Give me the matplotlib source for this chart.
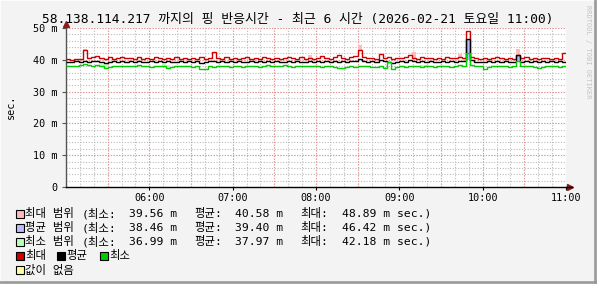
import numpy as np
import matplotlib
matplotlib.use("Agg")
import matplotlib.pyplot as plt
from matplotlib.patches import Rectangle
from matplotlib.lines import Line2D

W, H = 597, 284
MONO = ["DejaVu Sans Mono", "Noto Sans CJK KR"]
RED = "#CC0000"; GRN = "#00CC00"; BLK = "#000000"
PINK = "#FFBBBB"; LBLUE = "#BBBBFF"; LGRN = "#BBFFBB"; YEL = "#FFFFA0"
BG = "#F3F3F3"

# 3-minute samples from 05:00 to 11:00 (ms)
T0, STEP = 5.0, 0.05
MAX_MS = [40.2, 40.0, 40.4, 40.3, 43.0, 40.5, 40.8, 41.2, 40.6, 40.4,
          40.9, 40.3, 40.6, 41.0, 40.5, 40.7, 40.2, 40.9, 40.4, 40.6,
          40.3, 40.8, 40.5, 40.2, 40.6, 40.4, 41.0, 40.3, 40.5, 40.1,
          40.6, 40.4, 40.8, 40.3, 40.7, 42.3, 40.5, 40.3, 40.9, 40.4,
          40.6, 40.2, 40.5, 40.8, 40.3, 40.6, 40.4, 40.9, 40.5, 40.3,
          40.7, 40.4, 40.6, 41.0, 40.5, 40.3, 40.8, 40.4, 40.6, 40.2,
          40.5, 41.1, 40.6, 40.4, 40.9, 41.5, 40.7, 40.4, 40.8, 41.2,
          43.2, 40.9, 40.5, 40.7, 40.4, 41.9, 40.6, 40.8, 40.3, 40.6,
          40.5, 40.9, 41.6, 40.7, 40.4, 40.8, 40.5, 40.6, 40.3, 40.7,
          40.4, 40.8, 40.5, 40.6, 41.0, 40.6, 48.9, 40.9, 40.5, 40.3,
          40.7, 40.4, 40.6, 40.9, 40.5, 40.3, 40.7, 40.4, 41.6, 40.5,
          40.8, 40.3, 40.6, 40.4, 40.5, 40.7, 40.3, 40.6, 40.4, 42.1]
AVG_MS = [39.3, 39.2, 39.5, 39.4, 39.6, 39.3, 39.5, 39.7, 39.4, 39.0,
          39.3, 39.5, 39.4, 39.6, 39.3, 39.5, 39.4, 39.7, 39.3, 39.4,
          39.5, 39.3, 39.6, 39.4, 39.5, 39.2, 39.4, 39.6, 39.3, 39.5,
          39.4, 39.6, 39.1, 39.4, 39.5, 39.7, 39.3, 39.5, 39.4, 39.6,
          39.3, 39.5, 39.4, 39.2, 39.6, 39.4, 39.5, 39.3, 39.6, 39.4,
          39.5, 39.3, 39.4, 39.6, 39.4, 39.5, 39.2, 39.4, 39.6, 39.3,
          39.5, 39.4, 39.6, 39.3, 39.5, 39.4, 39.7, 39.3, 39.5, 39.6,
          40.2, 39.5, 39.3, 39.6, 39.4, 39.8, 39.5, 39.3, 39.0, 39.4,
          39.5, 39.4, 39.8, 39.5, 39.3, 39.6, 39.4, 39.5, 39.2, 39.4,
          39.5, 39.3, 39.6, 39.4, 39.5, 39.6, 46.4, 39.8, 39.3, 39.4,
          39.2, 39.5, 39.4, 39.6, 39.3, 39.5, 39.4, 39.3, 41.4, 39.4,
          39.5, 39.3, 39.6, 39.4, 39.5, 39.3, 39.6, 39.4, 39.5, 39.3]
MIN_MS = [38.0, 37.9, 38.2, 38.5, 38.6, 38.4, 38.1, 38.3, 38.0, 37.4,
          37.6, 38.1, 38.0, 38.2, 37.9, 38.1, 38.0, 38.3, 37.9, 38.0,
          37.8, 38.2, 38.0, 37.9, 37.5, 37.8, 38.0, 38.2, 37.9, 38.1,
          37.8, 38.0, 37.0, 37.2, 38.0, 37.8, 38.1, 37.9, 38.0, 37.7,
          38.1, 37.9, 37.8, 38.0, 38.2, 37.9, 37.7, 38.0, 38.3, 38.1,
          37.9, 38.1, 38.3, 38.0, 37.8, 38.2, 38.0, 38.1, 37.9, 38.2,
          38.0, 37.8, 38.1, 37.9, 37.7, 37.4, 37.3, 37.6, 37.9, 37.8,
          38.0, 37.9, 38.1, 37.8, 37.6, 37.9, 37.5, 39.2, 37.2, 37.8,
          38.0, 37.8, 38.1, 37.9, 38.0, 37.7, 37.9, 38.2, 37.8, 38.0,
          37.9, 38.1, 37.8, 38.0, 38.3, 38.0, 42.2, 38.5, 38.2, 37.9,
          37.2, 37.8, 38.0, 38.2, 37.9, 38.1, 37.8, 38.0, 39.7, 38.0,
          37.9, 38.1, 37.8, 37.4, 37.6, 38.0, 37.9, 38.1, 37.8, 38.0]
# range bands (only where visible)
PINK_IDX = [4, 35, 58, 70, 83, 94, 108]
PINK_TOP = [43.3, 42.5, 41.4, 44.8, 42.6, 41.9, 43.4]
BLUE_IDX = [96, 108]
BLUE_BOT = [40.0, 39.4]
BLUE_TOP = [46.4, 41.5]
LGRN_IDX = [8, 9, 23, 24, 85, 86]
LGRN_TOP = [38.7, 38.6, 38.6, 38.4, 38.4, 38.5]

YTICKS = [0, 10, 20, 30, 40, 50]
YLABELS = ["0", "10 m", "20 m", "30 m", "40 m", "50 m"]
XTICKS = [6, 7, 8, 9, 10, 11]
XLABELS = ["06:00", "07:00", "08:00", "09:00", "10:00", "11:00"]

TITLE = "58.138.114.217 까지의 핑 반응시간 - 최근 6 시간 (2026-02-21 토요일 11:00)"
LEG_ROWS = [(PINK, "최대 범위", "39.56 m", "40.58 m", "48.89 m sec.)"),
            (LBLUE, "평균 범위", "38.46 m", "39.40 m", "46.42 m sec.)"),
            (LGRN, "최소 범위", "36.99 m", "37.97 m", "42.18 m sec.)")]


def fx(x): return x / W
def fy(y): return 1 - y / H


fig = plt.figure(figsize=(W / 100, H / 100), dpi=100, facecolor=BG)
ax = fig.add_axes([fx(66), fy(187), (566 - 66) / W, (187 - 28) / H])
ax.set_facecolor("white")

edges = T0 + np.arange(len(MAX_MS) + 1) * STEP
ax.bar(T0 + np.array(PINK_IDX) * STEP, np.array(PINK_TOP) - np.array(MAX_MS)[PINK_IDX],
       bottom=np.array(MAX_MS)[PINK_IDX], width=STEP, align="edge", color=PINK, lw=0, zorder=2)
ax.bar(T0 + np.array(BLUE_IDX) * STEP, np.array(BLUE_TOP) - np.array(BLUE_BOT),
       bottom=BLUE_BOT, width=STEP, align="edge", color=LBLUE, lw=0, zorder=2)
ax.bar(T0 + np.array(LGRN_IDX) * STEP, np.array(LGRN_TOP) - np.array(MIN_MS)[LGRN_IDX],
       bottom=np.array(MIN_MS)[LGRN_IDX], width=STEP, align="edge", color=LGRN, lw=0, zorder=2)
ax.stairs(MAX_MS, edges, baseline=None, color=RED, lw=1.0, zorder=3)
ax.stairs(AVG_MS, edges, baseline=None, color=BLK, lw=1.0, zorder=4)
ax.stairs(MIN_MS, edges, baseline=None, color=GRN, lw=1.0, zorder=5)

ax.set_xlim(5, 11); ax.set_ylim(0, 50)
# grid: minor grey every 10 min / 2 ms, major red every 30 min / 10 ms
for v in np.arange(5, 11.001, 1 / 6):
    ax.axvline(v, color="#BBBBBB", lw=0.8, ls=(0, (1, 1.5)), zorder=1)
for v in np.arange(2, 50.1, 2):
    ax.axhline(v, color="#BBBBBB", lw=0.8, ls=(0, (1, 1.5)), zorder=1)
for v in np.arange(5.5, 11.001, 0.5):
    ax.axvline(v, color="#F29090", lw=0.8, ls=(0, (1, 1.5)), zorder=1)
for v in YTICKS[1:]:
    ax.axhline(v, color="#F29090", lw=0.8, ls=(0, (1, 1.5)), zorder=1)

ax.spines[["top", "right"]].set_visible(False)
ax.spines["bottom"].set_color("black"); ax.spines["left"].set_color("#555555")
ax.spines["bottom"].set_linewidth(1.0); ax.spines["left"].set_linewidth(1.0)
ax.set_yticks(YTICKS, YLABELS, family=MONO, fontsize=7.3)
ax.set_xticks(XTICKS, XLABELS, family=MONO, fontsize=7.3)
ax.tick_params(axis="y", length=3, width=0.8, pad=3, color="#555555")
ax.tick_params(axis="x", length=2, width=0.8, pad=2)
# axis arrows
ax.plot(1.0 + 4 / 500, 0, marker=">", ms=4.5, color="#8B1A1A", transform=ax.transAxes, clip_on=False)
ax.plot(0, 1.0 + 4 / 159, marker="^", ms=4.5, color="#8B1A1A", transform=ax.transAxes, clip_on=False)
ax.add_line(Line2D([1.0, 1.012], [0, 0], color="black", lw=1.0, transform=ax.transAxes, clip_on=False))

fig.text(fx(298), fy(19), TITLE, family=MONO, fontsize=9.3, ha="center", va="center")
fig.text(fx(11), fy(107), "sec.", family=MONO, fontsize=7.3, rotation=90, ha="center", va="center")
fig.text(fx(588), fy(5), "RRDTOOL / TOBI OETIKER", family=MONO, fontsize=5.0,
         color="#C4C4C4", rotation=270, ha="center", va="top")


def box(x, y, c):
    fig.patches.append(Rectangle((fx(x), fy(y + 4)), 8 / W, 8 / H, transform=fig.transFigure,
                                 facecolor=c, edgecolor="black", lw=0.8))


def txt(x, y, s):
    fig.text(fx(x), fy(y), s, family=MONO, fontsize=8.2, ha="left", va="center")


for k, (c, name, mn, av, mx) in enumerate(LEG_ROWS):
    y = 214 + k * 14
    box(16, y, c); txt(25, y, name); txt(82, y, "(최소:")
    txt(129, y, mn); txt(194, y, "평균:"); txt(235, y, av)
    txt(300, y, "최대:"); txt(342, y, mx)
y = 256
box(16, y, RED); txt(25, y, "최대")
box(57, y, BLK); txt(66, y, "평균")
box(100, y, GRN); txt(109, y, "최소")
box(16, 270, YEL); txt(25, 270, "값이 없음")

# 3-d frame
for xs, ys, c in [([0, 0], [0, 1], "#FFFFFF"), ([0, 1], [1, 1], "#FFFFFF"),
                  ([1 - 1 / W, 1 - 1 / W], [0, 1], "#999999"), ([0, 1], [1 / H, 1 / H], "#999999"),
                  ([1 - 2.5 / W, 1 - 2.5 / W], [0, 1], "#999999"), ([0, 1], [2.5 / H, 2.5 / H], "#999999")]:
    fig.add_artist(Line2D(xs, ys, color=c, lw=1.2, transform=fig.transFigure))

fig.savefig("out.png", dpi=100, facecolor=BG)
